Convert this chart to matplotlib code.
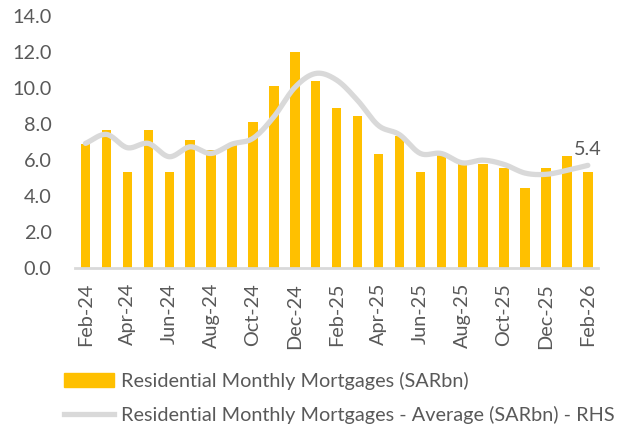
import numpy as np
import matplotlib
matplotlib.use("Agg")
import matplotlib.pyplot as plt
from matplotlib.patches import Patch
from matplotlib.lines import Line2D

plt.rcParams['font.family'] = ['Lato', 'DejaVu Sans']

months = ["Feb-24", "Mar-24", "Apr-24", "May-24", "Jun-24", "Jul-24", "Aug-24",
          "Sep-24", "Oct-24", "Nov-24", "Dec-24", "Jan-25", "Feb-25", "Mar-25",
          "Apr-25", "May-25", "Jun-25", "Jul-25", "Aug-25", "Sep-25", "Oct-25",
          "Nov-25", "Dec-25", "Jan-26", "Feb-26"]
monthly = [6.87, 7.65, 5.32, 7.65, 5.32, 7.10, 6.54, 6.82, 8.10, 10.09, 11.98, 10.40,
           8.87, 8.43, 6.32, 7.32, 5.32, 6.26, 5.80, 5.76, 5.54, 4.43, 5.54, 6.20, 5.32]
average = [6.91, 7.41, 6.67, 6.91, 6.17, 6.72, 6.35, 6.87, 7.19, 8.39, 10.02, 10.80,
           10.43, 9.30, 7.90, 7.40, 6.35, 6.35, 5.83, 5.98, 5.74, 5.26, 5.19, 5.41, 5.69]
last_label = "5.4"

bar_color = "#FFC000"
line_color = "#D9D9D9"
text_color = "#595959"
fs = 14.3


def smooth(x, y, n=20):
    # catmull-rom style curve through the points, for drawing only
    x = np.asarray(x, float)
    y = np.asarray(y, float)
    px = np.concatenate([[2 * x[0] - x[1]], x, [2 * x[-1] - x[-2]]])
    py = np.concatenate([[2 * y[0] - y[1]], y, [2 * y[-1] - y[-2]]])
    xs, ys = [], []
    t = np.linspace(0, 1, n, endpoint=False)
    for i in range(1, len(px) - 2):
        for arr, out in ((px, xs), (py, ys)):
            p0, p1, p2, p3 = arr[i - 1], arr[i], arr[i + 1], arr[i + 2]
            out.extend(0.5 * (2 * p1 + (-p0 + p2) * t
                              + (2 * p0 - 5 * p1 + 4 * p2 - p3) * t ** 2
                              + (-p0 + 3 * p1 - 3 * p2 + p3) * t ** 3))
    xs.append(x[-1])
    ys.append(y[-1])
    return np.array(xs), np.array(ys)


fig = plt.figure(figsize=(6.2, 4.29), dpi=100)
ax = fig.add_axes([0.121, 0.376, 0.844, 0.587])

x = np.arange(len(months))
ax.bar(x, monthly, width=0.45, color=bar_color, zorder=2)
sx, sy = smooth(x, average)
ax.plot(sx, sy, color=line_color, lw=3.8, solid_capstyle="round", zorder=3)
ax.annotate(last_label, (x[-1], average[-1]), xytext=(0, 5), textcoords="offset points",
            ha="center", va="bottom", fontsize=fs, color=text_color)

ax.set_xlim(-0.5, len(months) - 0.5)
ax.set_ylim(0, 14)
ax.set_yticks(np.arange(0, 14.1, 2))
ax.set_yticklabels([f"{v:.1f}" for v in np.arange(0, 14.1, 2)])
ax.set_xticks(x[::2])
ax.set_xticklabels(months[::2], rotation=90)
ax.tick_params(axis="both", length=0, labelsize=fs, labelcolor=text_color)
ax.tick_params(axis="y", pad=17)
ax.tick_params(axis="x", pad=11)

for s in ["top", "right", "left"]:
    ax.spines[s].set_visible(False)
ax.spines["bottom"].set_color(line_color)
ax.spines["bottom"].set_linewidth(2)

handles = [Patch(color=bar_color, label="Residential Monthly Mortgages (SARbn)"),
           Line2D([0], [0], color=line_color, lw=3.8,
                  label="Residential Monthly Mortgages - Average (SARbn) - RHS")]
fig.legend(handles=handles, loc="upper left", bbox_to_anchor=(0.103, 0.133),
           frameon=False, fontsize=fs, labelcolor=text_color, handlelength=2.5,
           handletextpad=0.4, labelspacing=0.8, borderaxespad=0, borderpad=0)

fig.savefig("out.png", dpi=100)
